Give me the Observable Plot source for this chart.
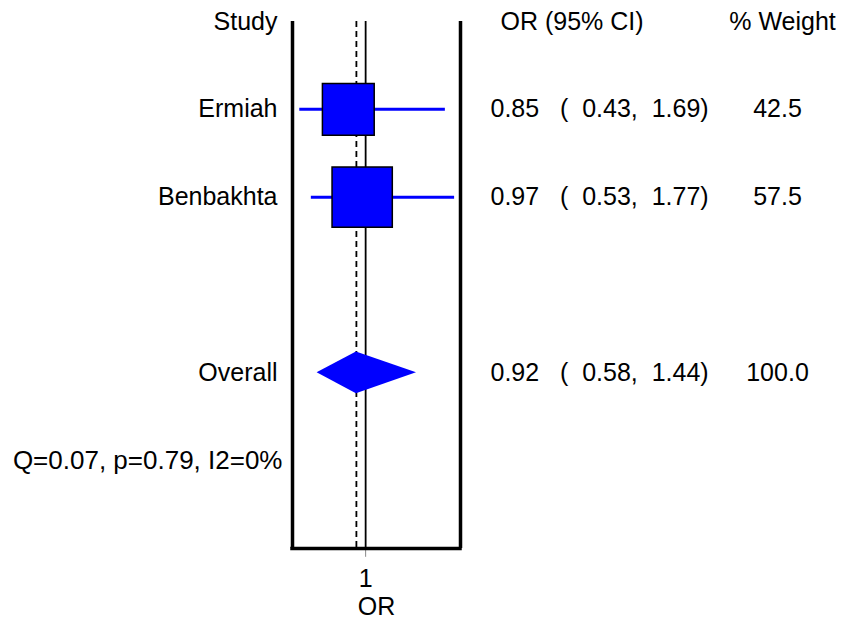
<!DOCTYPE html>
<html><head><meta charset="utf-8">
<script src="https://cdn.jsdelivr.net/npm/d3@7"></script>
<script src="https://cdn.jsdelivr.net/npm/@observablehq/plot@0.6"></script>
<style>body{margin:0;background:#fff;}</style>
</head><body><div id="chart"></div>
<script>
// ---- data ----
const studies = ["Ermiah", "Benbakhta"];
const studyOR = [0.85, 0.97];
const studyLo = [0.43, 0.53];
const studyHi = [1.69, 1.77];
const studyWeight = [42.5, 57.5];
const studyRow = [1, 2];
const overallLabel = ["Overall"];
const overallOR = [0.92];
const overallLo = [0.58];
const overallHi = [1.44];
const overallWeight = [100.0];
const overallRow = [4];
const heterogeneity = ["Q=0.07, p=0.79, I2=0%"];
const hetRow = [5];
const headers = ["Study", "OR (95% CI)", "% Weight"];
const xTicks = [1];
const xLabel = ["OR"];
const xDomain = [0.367, 1.821];
const rowDomain = [0, 6];

// ---- tables ----
const rows = studies.map((s, i) => ({label: s, or: studyOR[i], lo: studyLo[i], hi: studyHi[i], w: studyWeight[i], row: studyRow[i]}));
const overall = overallLabel.map((s, i) => ({label: s, or: overallOR[i], lo: overallLo[i], hi: overallHi[i], w: overallWeight[i], row: overallRow[i]}));
const allRows = rows.concat(overall);
const f2 = d3.format(".2f"), f1 = d3.format(".1f");
const nb = "\u00a0";
const ciText = d => f2(d.or) + nb.repeat(3) + "(" + nb.repeat(2) + f2(d.lo) + "," + nb.repeat(2) + f2(d.hi) + ")";
const halfH = 0.237;
const diamond = overall.flatMap(d => [
  {x: d.lo, y1: d.row, y2: d.row},
  {x: d.or, y1: d.row - halfH, y2: d.row + halfH},
  {x: d.hi, y1: d.row, y2: d.row}
]);

const blue = "#0000ff";
const FS = 25;
const txt = {fontSize: FS, fill: "#000", lineAnchor: "middle"};

const chart = Plot.plot({
  width: 844,
  height: 621,
  marginLeft: 292,
  marginRight: 384,
  marginTop: 21,
  marginBottom: 73,
  style: {fontFamily: "'Liberation Sans', Arial, sans-serif", background: "#fff", overflow: "visible"},
  x: {type: "linear", domain: xDomain, axis: null},
  y: {type: "linear", domain: rowDomain, reverse: true, axis: null},
  r: {type: "sqrt", domain: [0, d3.max(studyWeight)], range: [0, 34]},
  marks: [
    // reference lines
    Plot.ruleX(xTicks, {x: d => d, stroke: "#000", strokeWidth: 1.8}),
    Plot.ruleX(overall, {x: "or", stroke: "#000", strokeWidth: 1.8, strokeDasharray: "6,4"}),
    // x tick
    Plot.ruleX(xTicks, {x: d => d, y1: rowDomain[1], y2: rowDomain[1] + 0.1, stroke: "#888", strokeWidth: 1}),
    // CIs and boxes
    Plot.ruleY(rows, {y: "row", x1: "lo", x2: "hi", stroke: blue, strokeWidth: 3}),
    Plot.dot(rows, {x: "or", y: "row", r: "w", symbol: "square", fill: blue, stroke: "#000", strokeWidth: 1.5}),
    // overall diamond
    Plot.areaY(diamond, {x: "x", y1: "y1", y2: "y2", fill: blue, curve: "linear"}),
    // frame (left, right, bottom)
    Plot.ruleX(xDomain, {x: d => d, stroke: "#000", strokeWidth: 3.5}),
    Plot.ruleY([rowDomain[1]], {y: d => d, x1: xDomain[0], x2: xDomain[1], stroke: "#000", strokeWidth: 3.5, strokeLinecap: "square"}),
    // headers
    Plot.text([headers[0]], {...txt, frameAnchor: "top-left", dx: -15, textAnchor: "end"}),
    Plot.text([headers[1]], {...txt, frameAnchor: "top-right", dx: 40, textAnchor: "start"}),
    Plot.text([headers[2]], {...txt, frameAnchor: "top-right", dx: 322, textAnchor: "middle"}),
    // row labels
    Plot.text(allRows, {...txt, y: "row", text: "label", frameAnchor: "left", dx: -15, textAnchor: "end"}),
    Plot.text(allRows, {...txt, y: "row", text: ciText, frameAnchor: "right", dx: 30, textAnchor: "start"}),
    Plot.text(allRows, {...txt, y: "row", text: d => f1(d.w), frameAnchor: "right", dx: 317, textAnchor: "middle"}),
    Plot.text(heterogeneity, {...txt, fontSize: 26, y: () => hetRow[0], text: d => d, frameAnchor: "left", dx: -10, textAnchor: "end"}),
    // axis tick label and axis title
    Plot.text(xTicks, {...txt, x: d => d, text: d => String(d), frameAnchor: "bottom", dy: 30}),
    Plot.text(xLabel, {...txt, text: d => d, frameAnchor: "bottom", dy: 58})
  ]
});
document.getElementById("chart").appendChild(chart);
</script>
</body></html>
